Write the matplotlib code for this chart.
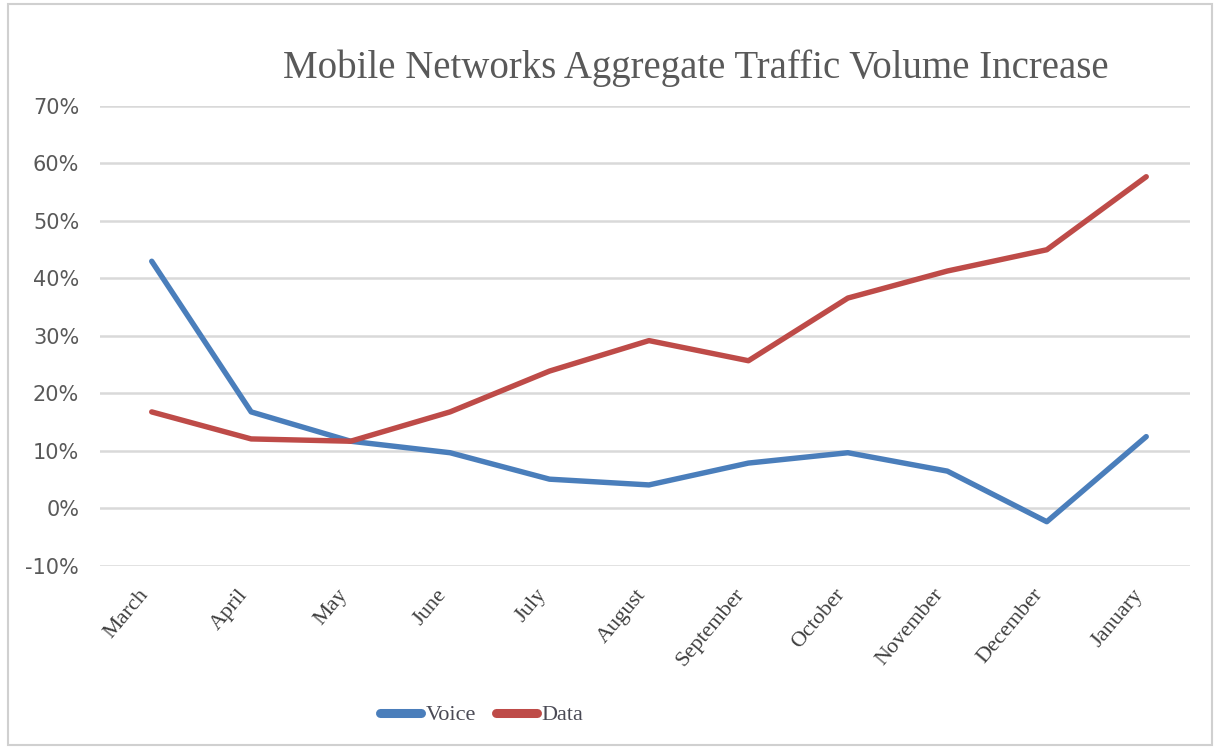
import matplotlib
matplotlib.use("Agg")
import matplotlib.pyplot as plt
from matplotlib.patches import Rectangle
from matplotlib.ticker import FuncFormatter
from matplotlib.transforms import ScaledTranslation

months = ["March", "April", "May", "June", "July", "August", "September",
          "October", "November", "December", "January"]
voice = [43.0, 16.8, 11.7, 9.7, 5.1, 4.1, 7.9, 9.7, 6.5, -2.3, 12.5]
data = [16.8, 12.1, 11.7, 16.8, 23.9, 29.2, 25.7, 36.6, 41.3, 45.0, 57.7]
yticks = [-10, 0, 10, 20, 30, 40, 50, 60, 70]

BLUE = "#4A7EBB"
RED = "#BE4B48"
GRAY = "#595959"

fig = plt.figure(figsize=(12.15, 7.49), dpi=100)
fig.patches.append(Rectangle((8 / 1215, 4 / 749), 1204 / 1215, 741 / 749,
                             transform=fig.transFigure, fill=False,
                             edgecolor="#D0D0D0", linewidth=1.5))

ax = fig.add_axes([100 / 1215, 1 - 566 / 749, 1090 / 1215, (566 - 106) / 749])
x = list(range(len(months)))
ax.plot(x, voice, color=BLUE, lw=3.9, solid_capstyle="round",
        solid_joinstyle="round", label="Voice", zorder=3)
ax.plot(x, data, color=RED, lw=3.9, solid_capstyle="round",
        solid_joinstyle="round", label="Data", zorder=3)

ax.set_xlim(-0.52, 10.44)
ax.set_ylim(-10, 70)
ax.set_yticks(yticks)
ax.yaxis.set_major_formatter(FuncFormatter(lambda v, p: f"{int(v)}%"))
ax.grid(axis="y", color="#D9D9D9", lw=1.8, zorder=0)
for s in ax.spines.values():
    s.set_visible(False)
ax.tick_params(axis="y", length=0, pad=15, labelsize=15, labelcolor=GRAY)
for lbl in ax.get_yticklabels():
    lbl.set_fontfamily("DejaVu Sans")
ax.set_xticks(x)
ax.set_xticklabels(months, rotation=50, ha="right", va="top",
                   rotation_mode="anchor", fontsize=16, color="#3F3F3F",
                   family="Liberation Serif")
ax.tick_params(axis="x", length=0, pad=14)
off = ScaledTranslation(-14 / 100, 0, fig.dpi_scale_trans)
for lbl in ax.get_xticklabels():
    lbl.set_transform(lbl.get_transform() + off)

fig.text(696 / 1215, 1 - 68 / 749, "Mobile Networks Aggregate Traffic Volume Increase",
         ha="center", va="center", fontsize=28, color=GRAY,
         family="Liberation Serif")

leg = fig.legend(loc="center", bbox_to_anchor=(482 / 1215, 1 - 715 / 749),
                 ncol=2, frameon=False, handlelength=1.85, handletextpad=0.2,
                 columnspacing=0.9, prop={"family": "Liberation Serif", "size": 16})
for t in leg.get_texts():
    t.set_color("#4A4A55")
for h in leg.get_lines():
    h.set_linewidth(6.5)
    h.set_solid_capstyle("round")

fig.savefig("out.png", dpi=100, facecolor="white")
